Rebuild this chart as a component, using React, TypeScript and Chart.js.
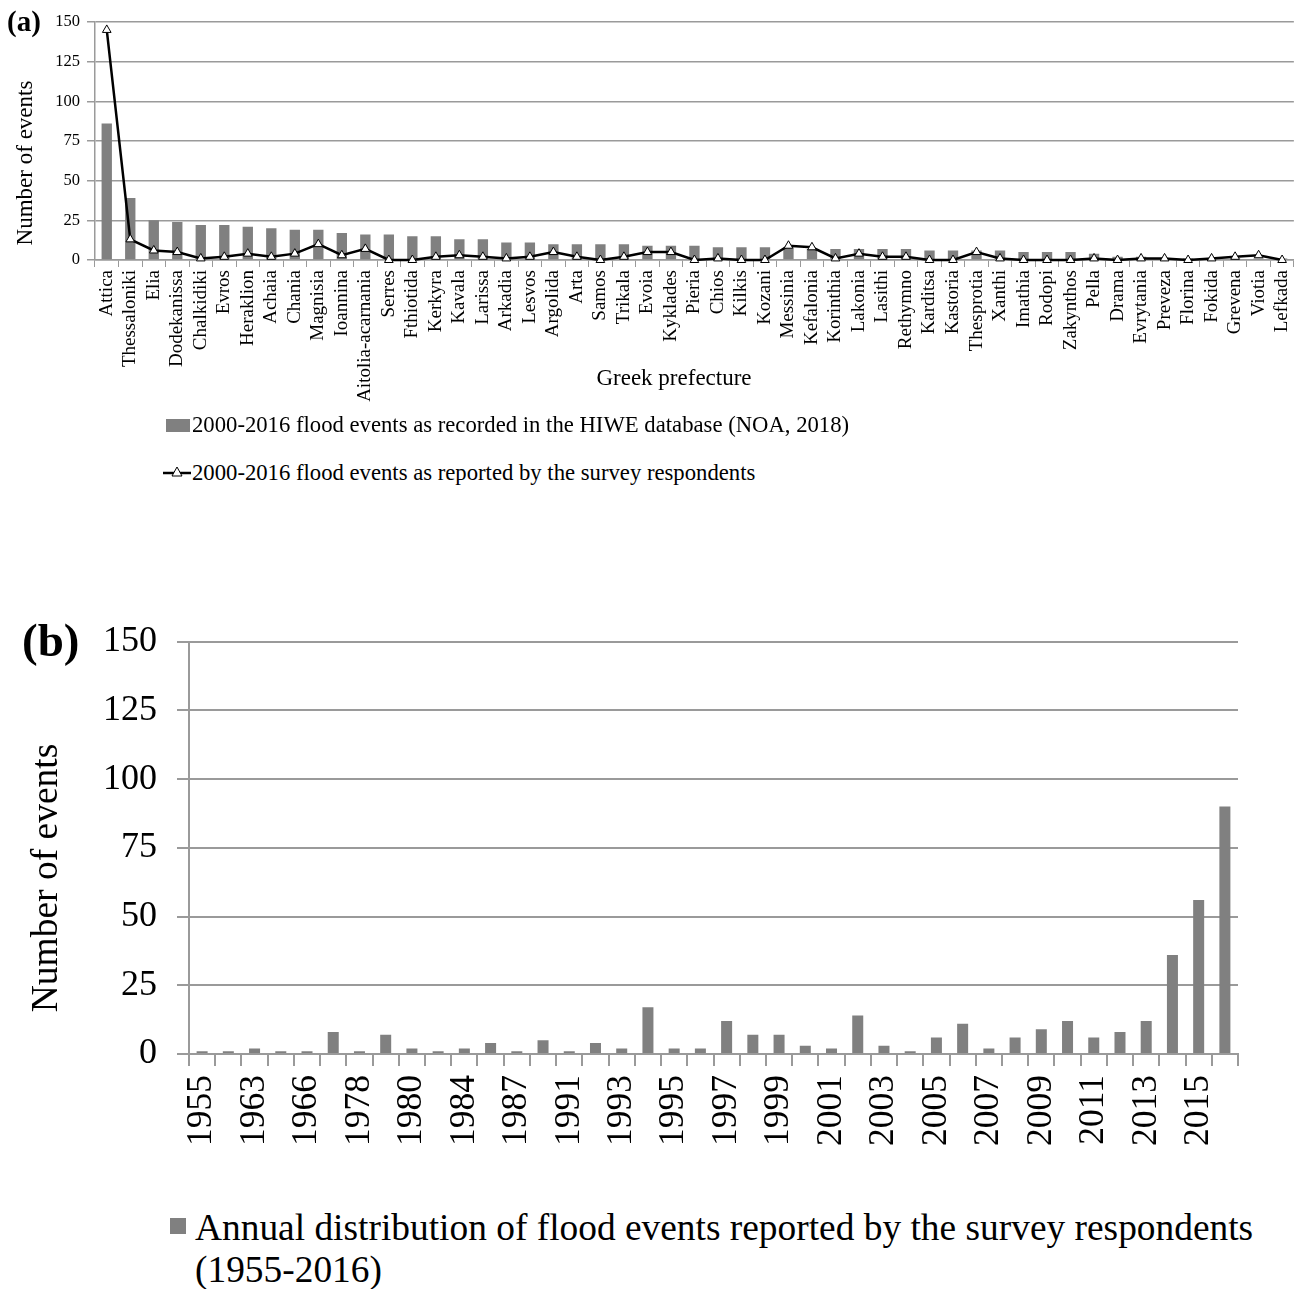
import React, { useEffect, useRef } from "react";
import { Chart, registerables } from "chart.js";

Chart.register(...registerables);

const prefectures = [
  "Attica", "Thessaloniki", "Elia", "Dodekanissa", "Chalkidiki", "Evros", "Heraklion", "Achaia", "Chania", "Magnisia",
  "Ioannina", "Aitolia-acarnania", "Serres", "Fthiotida", "Kerkyra", "Kavala", "Larissa", "Arkadia", "Lesvos", "Argolida",
  "Arta", "Samos", "Trikala", "Evoia", "Kyklades", "Pieria", "Chios", "Kilkis", "Kozani", "Messinia",
  "Kefalonia", "Korinthia", "Lakonia", "Lasithi", "Rethymno", "Karditsa", "Kastoria", "Thesprotia", "Xanthi", "Imathia",
  "Rodopi", "Zakynthos", "Pella", "Drama", "Evrytania", "Preveza", "Florina", "Fokida", "Grevena", "Viotia", "Lefkada",
];

const hiweEvents = [
  86, 39, 25, 24, 22, 22, 21, 20, 19, 19,
  17, 16, 16, 15, 15, 13, 13, 11, 11, 10,
  10, 10, 10, 9, 9, 9, 8, 8, 8, 8,
  7, 7, 7, 7, 7, 6, 6, 6, 6, 5,
  5, 5, 4, 2, 2, 1, 1, 1, 1, 1, 1,
];

const surveyEvents = [
  145, 13, 6, 5, 1, 2, 4, 2, 4, 10,
  3, 7, 0, 0, 2, 3, 2, 1, 2, 5,
  2, 0, 2, 5, 5, 0, 1, 0, 0, 9,
  8, 1, 4, 2, 2, 0, 0, 5, 1, 0,
  0, 0, 1, 0, 1, 1, 0, 1, 2, 3, 0,
];

const years = [
  "1955", "1961", "1963", "1964", "1966", "1977", "1978", "1979", "1980", "1982",
  "1984", "1986", "1987", "1990", "1991", "1992", "1993", "1994", "1995", "1996",
  "1997", "1998", "1999", "2000", "2001", "2002", "2003", "2004", "2005", "2006",
  "2007", "2008", "2009", "2010", "2011", "2012", "2013", "2014", "2015", "2016",
];

const annualEvents = [
  1, 1, 2, 1, 1, 8, 1, 7, 2, 1,
  2, 4, 1, 5, 1, 4, 2, 17, 2, 2,
  12, 7, 7, 3, 2, 14, 3, 1, 6, 11,
  2, 6, 9, 12, 6, 8, 12, 36, 56, 90,
];

const yTicks = [0, 25, 50, 75, 100, 125, 150];

const legendA1 = "2000-2016 flood events as recorded in the HIWE database (NOA, 2018)";
const legendA2 = "2000-2016 flood events as reported by the survey respondents";
const legendB1 = "Annual distribution of flood events reported by the survey respondents";
const legendB2 = "(1955-2016)";

const SERIF = "'Liberation Serif', 'Times New Roman', serif";
const BAR_GRAY = "#808080";
const GRID_GRAY = "#9a9a9a";

function ChartA() {
  const ref = useRef<HTMLCanvasElement | null>(null);
  useEffect(() => {
    if (!ref.current) return;
    const chart = new Chart(ref.current, {
      type: "bar",
      data: {
        labels: prefectures,
        datasets: [
          {
            type: "line",
            label: legendA2,
            data: surveyEvents,
            borderColor: "#000",
            borderWidth: 2.5,
            pointStyle: "triangle",
            pointRadius: 5,
            pointBackgroundColor: "#fff",
            pointBorderColor: "#000",
            pointBorderWidth: 1,
            tension: 0,
            order: 0,
            clip: false,
          } as any,
          {
            type: "bar",
            label: legendA1,
            data: hiweEvents,
            backgroundColor: BAR_GRAY,
            barPercentage: 0.44,
            categoryPercentage: 1,
            order: 1,
          },
        ],
      },
      options: {
        animation: false,
        responsive: false,
        layout: { padding: { left: 0, right: 9, top: 22, bottom: 0 } },
        plugins: { legend: { display: false }, tooltip: { enabled: false } },
        scales: {
          x: {
            grid: {
              offset: true,
              drawOnChartArea: false,
              drawTicks: true,
              tickLength: 7,
              color: GRID_GRAY,
            },
            border: { display: true, color: GRID_GRAY, width: 1.5 },
            ticks: {
              autoSkip: false,
              maxRotation: 90,
              minRotation: 90,
              padding: 3,
              color: "#000",
              font: { family: SERIF, size: 19 },
            },
            afterFit: (s: any) => {
              s.height = 153;
            },
          },
          y: {
            min: 0,
            max: 150,
            afterBuildTicks: (s: any) => {
              s.ticks = yTicks.map((v) => ({ value: v }));
            },
            grid: { color: GRID_GRAY, lineWidth: 1.5, drawTicks: true, tickLength: 8 },
            border: { display: true, color: GRID_GRAY, width: 1.5 },
            ticks: {
              padding: 7,
              color: "#000",
              font: { family: SERIF, size: 16.5 },
            },
            afterFit: (s: any) => {
              s.width = 95;
            },
          },
        },
      },
    });
    return () => chart.destroy();
  }, []);
  return <canvas ref={ref} width={1308} height={413} style={{ position: "absolute", left: 0, top: 0, width: 1308, height: 413 }} />;
}

function ChartB() {
  const ref = useRef<HTMLCanvasElement | null>(null);
  useEffect(() => {
    if (!ref.current) return;
    const chart = new Chart(ref.current, {
      type: "bar",
      data: {
        labels: years,
        datasets: [
          {
            label: legendB1 + " " + legendB2,
            data: annualEvents,
            backgroundColor: BAR_GRAY,
            barPercentage: 0.42,
            categoryPercentage: 1,
          },
        ],
      },
      options: {
        animation: false,
        responsive: false,
        layout: { padding: { left: 0, right: 70, top: 39, bottom: 0 } },
        plugins: { legend: { display: false }, tooltip: { enabled: false } },
        scales: {
          x: {
            grid: {
              offset: true,
              drawOnChartArea: false,
              drawTicks: true,
              tickLength: 12,
              color: GRID_GRAY,
              lineWidth: 2,
            },
            border: { display: true, color: GRID_GRAY, width: 2 },
            ticks: {
              autoSkip: false,
              maxRotation: 90,
              minRotation: 90,
              padding: 9,
              color: "#000",
              font: { family: SERIF, size: 35.5 },
              callback: (_v: any, i: number) => (i % 2 === 0 ? years[i] : ""),
            },
            afterFit: (s: any) => {
              s.height = 146;
            },
          },
          y: {
            min: 0,
            max: 150,
            afterBuildTicks: (s: any) => {
              s.ticks = yTicks.map((v) => ({ value: v }));
            },
            grid: { color: GRID_GRAY, lineWidth: 2, drawTicks: true, tickLength: 12 },
            border: { display: true, color: GRID_GRAY, width: 2 },
            ticks: {
              padding: 20,
              color: "#000",
              font: { family: SERIF, size: 36 },
            },
            afterFit: (s: any) => {
              s.width = 189;
            },
          },
        },
      },
    });
    return () => chart.destroy();
  }, []);
  return <canvas ref={ref} width={1308} height={600} style={{ position: "absolute", left: 0, top: 600, width: 1308, height: 600 }} />;
}

const abs = (x: number, y: number, extra: React.CSSProperties = {}): React.CSSProperties => ({
  position: "absolute",
  left: x,
  top: y,
  whiteSpace: "nowrap",
  fontFamily: SERIF,
  color: "#000",
  lineHeight: 1,
  ...extra,
});

export default function App() {
  return (
    <div style={{ position: "absolute", left: 0, top: 0, width: 1308, height: 1289, background: "#fff", overflow: "hidden" }}>
      <ChartA />
      <ChartB />
      {/* Panel labels */}
      <div style={abs(7, 7, { fontSize: 29, fontWeight: "bold" })}>(a)</div>
      <div style={abs(22, 617, { fontSize: 47, fontWeight: "bold" })}>(b)</div>

      {/* Axis titles (a) */}
      <div style={abs(24, 163, { fontSize: 23, transform: "translate(-50%, -50%) rotate(-90deg)" })}>Number of events</div>
      <div style={abs(674, 377, { fontSize: 23, transform: "translate(-50%, -50%)" })}>Greek prefecture</div>

      {/* Legend (a) */}
      <div style={abs(166, 419, { width: 24, height: 13, background: BAR_GRAY })} />
      <div style={abs(192, 425, { fontSize: 22.7, transform: "translateY(-50%)" })}>{legendA1}</div>
      <svg style={{ position: "absolute", left: 162, top: 464 }} width={30} height={18}>
        <line x1={1} y1={9} x2={29} y2={9} stroke="#000" strokeWidth={2.5} />
        <polygon points="15,3 20,12 10,12" fill="#fff" stroke="#000" strokeWidth={1} />
      </svg>
      <div style={abs(192, 473, { fontSize: 22.7, transform: "translateY(-50%)" })}>{legendA2}</div>

      {/* Axis title (b) */}
      <div style={abs(45, 878, { fontSize: 37.5, transform: "translate(-50%, -50%) rotate(-90deg)" })}>Number of events</div>

      {/* Legend (b) */}
      <div style={abs(170, 1218, { width: 16, height: 16, background: BAR_GRAY })} />
      <div style={abs(195, 1228, { fontSize: 37.4, transform: "translateY(-50%)" })}>{legendB1}</div>
      <div style={abs(195, 1270, { fontSize: 37.4, transform: "translateY(-50%)" })}>{legendB2}</div>
    </div>
  );
}
